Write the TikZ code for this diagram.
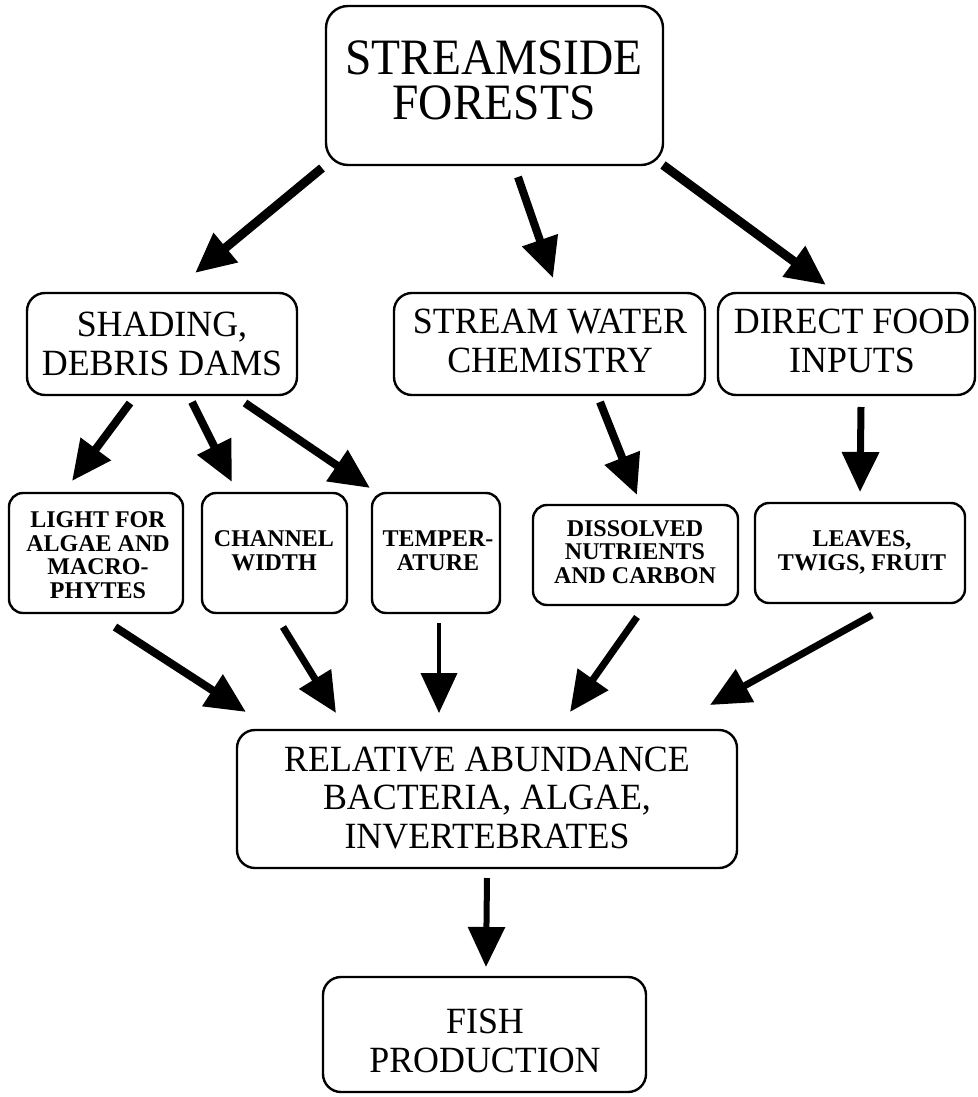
\documentclass[tikz,border=0pt]{standalone}
\usepackage{fontspec}
\setmainfont{Liberation Serif}
\newfontfamily\fontTop[FakeStretch=0.93]{Liberation Serif}
\newfontfamily\fontMid[FakeStretch=0.97]{Liberation Serif}
\newfontfamily\fontSmall{Liberation Serif}
\usetikzlibrary{arrows.meta}
\tikzset{
  box/.style={draw=black, line width=2.4pt, rounded corners=18pt, inner sep=0pt, outer sep=0pt},
  sbox/.style={box, rounded corners=14pt},
  toptext/.style={anchor=base, align=center, inner sep=0pt, font=\fontTop\fontsize{51}{45}\selectfont},
  midtext/.style={anchor=base, align=center, inner sep=0pt, font=\fontMid\fontsize{37}{38.5}\selectfont},
  smalltext/.style={anchor=base, align=center, inner sep=0pt, font=\fontSmall\bfseries\fontsize{24}{23.5}\selectfont},
  flow/.style={line width=#1, line cap=butt, -{Triangle[length=40pt,width=36pt]}},
  flow/.default=8pt
}
\begin{document}
\begin{tikzpicture}[x=1pt,y=-1pt]
\useasboundingbox (0,0) rectangle (977,1097);
% boxes
\node[box, minimum width=337pt, minimum height=159pt, rounded corners=22pt] (top) at (494.5,85.5) {};
\node[box, minimum width=270pt, minimum height=102pt] (shade) at (162,344) {};
\node[box, minimum width=311pt, minimum height=102pt] (chem) at (549.5,344) {};
\node[box, minimum width=257pt, minimum height=102pt] (food) at (846.5,344) {};
\node[sbox, minimum width=174pt, minimum height=120pt] (light) at (96,553) {};
\node[sbox, minimum width=145pt, minimum height=120pt] (chan) at (274.5,553) {};
\node[sbox, minimum width=128pt, minimum height=120pt] (temp) at (436,553) {};
\node[sbox, minimum width=205pt, minimum height=100pt] (diss) at (635.5,555) {};
\node[sbox, minimum width=210pt, minimum height=100pt] (leaf) at (860,553) {};
\node[box, minimum width=500pt, minimum height=138pt] (rel) at (487,799) {};
\node[box, minimum width=323pt, minimum height=115pt] (fish) at (484.5,1034.5) {};
% texts (anchored at the baseline of the last line)
\node[toptext] (topT) at (494,120) {STREAMSIDE\\FORESTS};
\node[midtext] (shadeT) at (162,375) {SHADING,\\DEBRIS DAMS};
\node[midtext] (chemT) at (550,372) {STREAM WATER\\CHEMISTRY};
\node[midtext] (foodT) at (852,372) {DIRECT FOOD\\INPUTS};
\node[smalltext] (lightT) at (98,598) {LIGHT FOR\\ALGAE AND\\MACRO-\\PHYTES};
\node[smalltext] (chanT) at (274,570) {CHANNEL\\WIDTH};
\node[smalltext] (tempT) at (438,570) {TEMPER-\\ATURE};
\node[smalltext] (dissT) at (635,583) {DISSOLVED\\NUTRIENTS\\AND CARBON};
\node[smalltext] (leafT) at (862,570) {LEAVES,\\TWIGS, FRUIT};
\node[midtext] (relT) at (487,848) {RELATIVE ABUNDANCE\\BACTERIA, ALGAE,\\INVERTEBRATES};
\node[midtext] (fishT) at (485,1072) {FISH\\PRODUCTION};
% connector end points
\coordinate (a1s) at (322,168); \coordinate (a1e) at (195,273);
\coordinate (a2s) at (518,177); \coordinate (a2e) at (553,278);
\coordinate (a3s) at (663,165); \coordinate (a3e) at (826,285);
\coordinate (b1s) at (130,403); \coordinate (b1e) at (72,481);
\coordinate (b2s) at (192,402); \coordinate (b2e) at (232,482);
\coordinate (b3s) at (245,403); \coordinate (b3e) at (370,488);
\coordinate (c1s) at (600,402); \coordinate (c1e) at (637,495);
\coordinate (c2s) at (861,407); \coordinate (c2e) at (860,492);
\coordinate (d1s) at (115,627); \coordinate (d1e) at (246,712);
\coordinate (d2s) at (283,627); \coordinate (d2e) at (336,713);
\coordinate (d3s) at (439,623); \coordinate (d3e) at (439,713);
\coordinate (d4s) at (637,617); \coordinate (d4e) at (570,712);
\coordinate (d5s) at (872,615); \coordinate (d5e) at (710,705);
\coordinate (es) at (487,878); \coordinate (ee) at (486,967);
% connectors
\draw[flow=9pt] (a1s) -- (a1e);
\draw[flow=8pt] (a2s) -- (a2e);
\draw[flow=9pt] (a3s) -- (a3e);
\draw[flow=8pt] (b1s) -- (b1e);
\draw[flow=8pt] (b2s) -- (b2e);
\draw[flow=8pt] (b3s) -- (b3e);
\draw[flow=8pt] (c1s) -- (c1e);
\draw[flow=7pt] (c2s) -- (c2e);
\draw[flow=8pt] (d1s) -- (d1e);
\draw[flow=7pt] (d2s) -- (d2e);
\draw[flow=4pt] (d3s) -- (d3e);
\draw[flow=7pt] (d4s) -- (d4e);
\draw[flow=7pt] (d5s) -- (d5e);
\draw[flow=6pt] (es) -- (ee);
\end{tikzpicture}
\end{document}
